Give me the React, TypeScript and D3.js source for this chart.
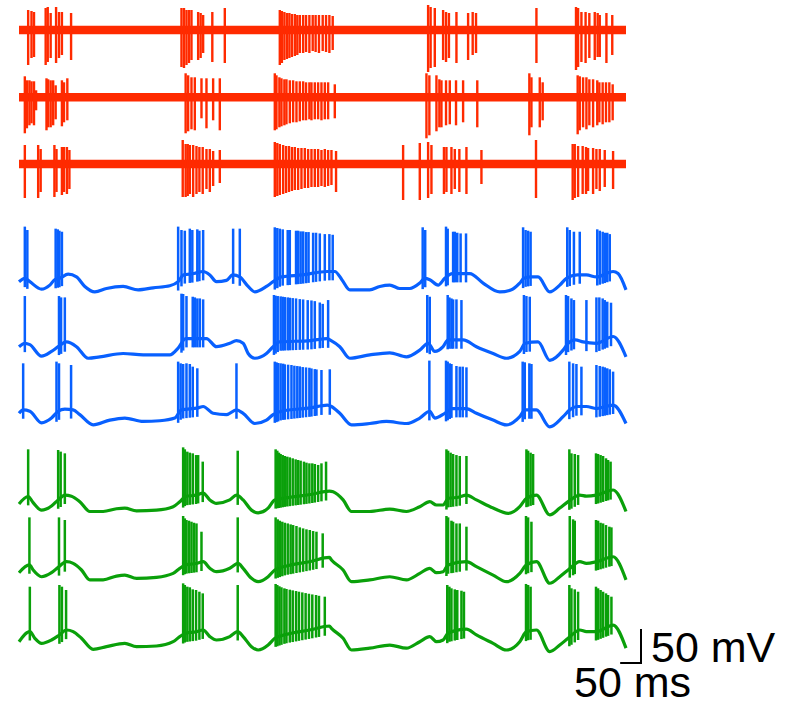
import React, { useEffect, useRef } from "react";
import * as d3 from "d3";

const duration = 1457; // ms

// extracellular recordings: [time ms, up µV, down µV]
const redSpikes1 = [
  [22, 200, 350], [30, 190, 280], [36, 180, 270], [64, 220, 350], [69, 230, 320], [76, 170, 280],
  [89, 230, 330], [96, 180, 280], [103, 180, 250], [125, 170, 300],
  [390, 220, 370], [396, 220, 380], [402, 200, 350], [408, 200, 330], [414, 200, 300], [430, 180, 300],
  [436, 170, 280], [442, 150, 230], [464, 180, 320], [494, 220, 330],
  [626, 200, 350], [631, 190, 330], [637, 180, 300], [643, 170, 290], [649, 170, 280], [655, 160, 270],
  [662, 160, 260], [668, 150, 250], [674, 150, 230], [682, 150, 230], [689, 150, 220], [697, 150, 230],
  [705, 150, 210], [712, 150, 220], [720, 150, 230], [729, 150, 210], [737, 150, 220], [745, 150, 230],
  [753, 140, 200],
  [982, 250, 420], [988, 230, 380], [998, 220, 370], [1018, 200, 300], [1025, 180, 320], [1032, 170, 280],
  [1050, 180, 330], [1078, 170, 300], [1089, 180, 250], [1097, 170, 230],
  [1242, 220, 330],
  [1337, 230, 400], [1342, 220, 370], [1350, 180, 320], [1360, 180, 330], [1369, 170, 280], [1382, 180, 300],
  [1389, 170, 270], [1394, 150, 270], [1410, 170, 330], [1424, 150, 250],
];

const redSpikes2 = [
  [14, 210, 360], [19, 170, 310], [25, 170, 280], [30, 160, 260], [36, 160, 280], [41, 70, 130],
  [66, 190, 330], [70, 180, 300], [76, 170, 300], [82, 170, 280], [88, 120, 220], [103, 170, 290],
  [108, 150, 250], [116, 190, 230],
  [400, 240, 360], [406, 220, 340], [414, 200, 320], [422, 200, 330], [438, 190, 210], [450, 190, 310],
  [466, 190, 230], [482, 190, 330],
  [614, 240, 330], [618, 220, 320], [625, 200, 300], [630, 190, 290], [637, 180, 280], [642, 180, 270],
  [650, 170, 260], [658, 170, 250], [666, 160, 250], [674, 160, 240], [682, 160, 230], [689, 150, 230],
  [697, 150, 220], [702, 150, 230], [710, 150, 220], [718, 150, 220], [726, 150, 230], [734, 150, 220],
  [742, 150, 220], [758, 130, 210],
  [978, 240, 410], [985, 220, 380], [1002, 220, 340], [1009, 180, 300], [1014, 170, 300], [1025, 170, 280],
  [1034, 170, 270], [1049, 170, 280], [1066, 170, 250], [1100, 170, 300],
  [1225, 240, 380], [1230, 200, 300], [1250, 200, 300], [1257, 150, 230],
  [1341, 220, 370], [1346, 210, 330], [1354, 200, 300], [1362, 200, 320], [1369, 180, 280], [1378, 180, 300],
  [1388, 170, 280], [1393, 150, 250], [1401, 150, 270], [1409, 150, 250], [1417, 150, 250], [1425, 130, 230],
];

const redSpikes3 = [
  [14, 190, 340], [46, 190, 340], [52, 150, 280], [85, 190, 330], [90, 150, 280], [103, 170, 310],
  [108, 170, 280], [115, 170, 300], [121, 140, 250],
  [393, 240, 330], [400, 200, 330], [405, 200, 320], [410, 190, 300], [418, 190, 330], [426, 180, 300],
  [433, 170, 280], [441, 170, 300], [450, 150, 250], [458, 150, 280], [466, 130, 220], [482, 140, 190],
  [614, 220, 330], [620, 210, 320], [626, 200, 310], [634, 190, 300], [641, 180, 290], [648, 180, 280],
  [655, 170, 270], [662, 170, 260], [670, 160, 260], [678, 160, 250], [686, 160, 240], [694, 150, 240],
  [702, 150, 230], [710, 150, 230], [718, 150, 230], [726, 140, 220], [734, 150, 230], [742, 140, 220],
  [750, 140, 210], [761, 130, 280],
  [922, 190, 360], [962, 210, 360], [982, 220, 340], [990, 190, 300], [1020, 170, 300], [1026, 170, 280],
  [1038, 170, 300], [1046, 150, 250], [1057, 150, 280], [1074, 170, 300], [1110, 140, 200],
  [1241, 240, 340],
  [1329, 200, 360], [1334, 200, 340], [1342, 180, 330], [1353, 180, 300], [1361, 170, 300], [1366, 160, 270],
  [1378, 160, 300], [1386, 150, 250], [1394, 150, 270], [1406, 140, 230], [1426, 130, 250],
];

// membrane potential: slow waveform [time ms, mV] and spikes [time ms, peak mV]
const blueBase1 = [
  [0, -65], [14, -60], [26, -65], [54, -76], [74, -70], [86, -62], [98, -60], [118, -54], [138, -58],
  [158, -72], [182, -80], [210, -75], [250, -72], [286, -77], [322, -74], [362, -71], [382, -65],
  [395, -55], [420, -53], [442, -50], [458, -55], [474, -65], [498, -63], [513, -55], [530, -58],
  [550, -72], [566, -80], [594, -72], [610, -65], [630, -58], [680, -55], [740, -50], [758, -50],
  [775, -62], [794, -77], [842, -77], [866, -72], [890, -70], [914, -75], [938, -75], [962, -67],
  [974, -60], [986, -62], [1006, -70], [1022, -60], [1040, -53], [1070, -53], [1082, -53], [1114, -67],
  [1154, -80], [1182, -77], [1202, -67], [1212, -60], [1230, -58], [1246, -58], [1274, -80], [1298, -70],
  [1314, -60], [1340, -55], [1362, -55], [1386, -58], [1426, -50], [1438, -53], [1457, -77],
];
const blueSpikes1 = [
  [14, 16], [20, 11], [88, 13], [93, 12], [97, 10], [103, 8.5],
  [382, 16], [390, 11], [398, 10], [410, 13], [416, 11], [428, 12], [433, 10], [442, 11],
  [514, 13], [530, 13],
  [614, 15], [620, 14], [626, 13], [633, 12], [645, 11], [650, 11], [665, 10], [670, 10], [676, 9],
  [682, 9], [689, 8], [695, 8], [706, 7], [713, 7], [722, 6], [734, 5], [745, 5], [753, 4],
  [969, 15], [975, 11],
  [1025, 16], [1029, 13], [1042, 8.5], [1046, 8.5], [1052, 7], [1060, 6], [1073, 6],
  [1210, 15], [1216, 11], [1222, 10], [1228, 8.5],
  [1316, 15], [1322, 11], [1332, 8.5], [1346, 8.5],
  [1388, 12], [1394, 10], [1401, 8.5], [1406, 7], [1412, 7], [1418, 5],
];

const blueBase2 = [
  [0, -65], [14, -60], [26, -62], [54, -79], [78, -72], [94, -65], [114, -58], [138, -65], [166, -82],
  [194, -80], [250, -75], [298, -77], [362, -77], [382, -67], [400, -53], [440, -53], [450, -53],
  [474, -65], [506, -60], [522, -56], [538, -60], [550, -75], [566, -82], [594, -75], [610, -65], [625, -58],
  [700, -56], [740, -53], [746, -55], [770, -65], [794, -82], [842, -77], [890, -74], [930, -80],
  [962, -70], [982, -60], [998, -72], [1018, -65], [1030, -55], [1066, -55], [1098, -65], [1138, -75],
  [1170, -82], [1202, -72], [1215, -60], [1246, -58], [1274, -85], [1306, -70], [1318, -60], [1335, -55],
  [1354, -58], [1386, -60], [1426, -50], [1457, -80],
];
const blueSpikes2 = [
  [14, 9.5], [96, 9.5], [101, 7.5], [110, 7.5],
  [390, 13], [394, 12.5], [402, 9.5], [417, 8.5], [422, 7.5], [428, 6], [434, 6], [442, 4.6],
  [612, 11], [616, 10], [621, 9.5], [628, 9], [633, 8.5], [638, 8], [645, 7.5], [650, 7], [657, 6.5],
  [665, 6], [674, 5], [682, 4.5], [693, 3.5], [702, 3], [710, 2], [722, 0], [729, -2], [742, 3.6],
  [980, 11], [986, 8.5],
  [1029, 11], [1033, 7.5], [1038, 6], [1042, 4.6], [1050, 4.6], [1062, 3.6],
  [1212, 11], [1218, 9.5], [1226, 8.5],
  [1313, 11], [1318, 9.5], [1326, 6], [1332, 3.6], [1362, 3.6],
  [1386, 7.5], [1393, 7.5], [1401, 6], [1406, 3.6], [1412, 1.2], [1421, -0.3],
];

const blueBase3 = [
  [0, -65], [10, -60], [26, -62], [54, -79], [78, -72], [94, -62], [110, -59], [130, -60], [146, -67],
  [178, -82], [218, -75], [254, -72], [298, -77], [338, -76], [374, -72], [390, -60], [430, -57],
  [442, -55], [466, -65], [498, -67], [522, -60], [538, -65], [566, -80], [594, -75], [610, -67],
  [630, -62], [700, -57], [740, -53], [750, -55], [770, -65], [798, -82], [842, -80], [882, -77],
  [930, -80], [962, -72], [986, -62], [998, -72], [1022, -65], [1040, -58], [1074, -58], [1098, -65],
  [1138, -75], [1170, -82], [1202, -70], [1215, -60], [1242, -60], [1274, -85], [1306, -70], [1322, -60],
  [1340, -55], [1362, -55], [1386, -58], [1426, -53], [1457, -80],
];
const blueSpikes3 = [
  [10, 8.5], [90, 11], [96, 8.5], [125, 6],
  [382, 11], [388, 8.5], [394, 7.5], [402, 8.5], [410, 7.5], [417, 3.6], [428, 1.2],
  [522, 8.5],
  [614, 11], [618, 10], [622, 9], [628, 8.5], [634, 8], [638, 7], [646, 6.5], [654, 6], [661, 5],
  [668, 4.5], [674, 4], [681, 3], [689, 2.5], [697, 2], [702, 1], [710, 0], [714, -0.5], [726, -1.3],
  [746, -0.3],
  [985, 12.5],
  [1025, 12.5], [1029, 11], [1034, 8.5], [1038, 7.5], [1050, 4.6], [1058, 3.6], [1065, 3.6], [1074, 2.6],
  [1209, 11], [1214, 10], [1225, 8.5], [1230, 7.5],
  [1321, 11], [1330, 8.5], [1338, 7.5], [1350, 3.6],
  [1386, 6], [1394, 4.6], [1401, 3.6], [1406, 2.6], [1412, 1.2], [1418, -0.3], [1426, -3.7],
];

const greenBase1 = [
  [0, -65], [22, -54], [34, -63], [54, -74], [78, -68], [94, -59], [110, -52], [126, -53.5], [146, -61.6],
  [170, -76], [202, -76], [234, -72], [254, -71], [282, -75], [330, -74], [370, -69], [386, -61.6],
  [400, -54], [425, -52], [442, -49], [458, -59], [474, -64], [506, -59], [522, -52], [538, -59],
  [558, -74], [574, -78], [598, -71], [614, -59], [640, -56], [700, -51], [745, -46], [754, -47],
  [778, -59], [798, -76], [842, -76], [890, -72.5], [930, -76], [962, -69], [986, -61.6], [1002, -66.5],
  [1018, -66.5], [1030, -57], [1055, -55], [1074, -52], [1098, -59], [1138, -71], [1174, -78.7],
  [1202, -69], [1218, -56.7], [1242, -52], [1274, -81], [1298, -71], [1318, -61.6], [1346, -52],
  [1362, -53.5], [1386, -52], [1426, -44.4], [1457, -76],
];
const greenSpikes1 = [
  [22, 15.4], [94, 14.4], [100, 12], [110, 9.5],
  [394, 18.3], [398, 15.4], [404, 12], [410, 10.5], [417, 9.5], [425, 7], [430, 7], [441, -2.7],
  [525, 13.4],
  [616, 15.4], [620, 13.4], [624, 10.5], [628, 8.5], [633, 7], [638, 5.6], [644, 4.6], [650, 3.6],
  [657, 2.2], [664, 0.7], [670, -0.3], [676, -1.3], [684, -2.7], [690, -4.2], [697, -5.2], [704, -5.2],
  [710, -6.2], [718, -7.6], [726, -5.2], [737, -2.7],
  [1026, 15.4], [1030, 13.4], [1036, 10.5], [1042, 8.5], [1050, 7], [1058, 5.6], [1074, 5.6],
  [1218, 15.4], [1222, 13.4], [1228, 10.5], [1234, 8.5],
  [1321, 15.4], [1326, 9.5], [1334, 8.5], [1342, 7],
  [1385, 9.5], [1390, 8.5], [1396, 7], [1402, 5.6], [1409, 2.2], [1414, -0.3], [1420, -2.7],
];

const greenBase2 = [
  [0, -66.5], [25, -55], [34, -62.6], [54, -72.4], [78, -66.5], [94, -58.6], [114, -50.3], [130, -52.7],
  [150, -62.5], [170, -77], [202, -77], [234, -71.4], [254, -70], [282, -74.8], [330, -73.3], [370, -67.5],
  [386, -60], [400, -55], [425, -53], [442, -50.3], [458, -60], [474, -65], [506, -60], [526, -52.7],
  [538, -60], [558, -74.8], [574, -79.7], [598, -72.4], [614, -62.5], [640, -57], [700, -50], [745, -44],
  [750, -47.8], [778, -62.5], [798, -79.7], [842, -77], [890, -72.4], [930, -77], [962, -67.5], [986, -60],
  [1002, -66.5], [1018, -65], [1030, -55], [1074, -50.3], [1098, -57.6], [1138, -70], [1170, -79.7],
  [1202, -67.5], [1218, -55], [1242, -50.3], [1274, -82], [1298, -72.4], [1318, -62.5], [1346, -50.3],
  [1362, -52.7], [1386, -50.3], [1426, -43], [1457, -77],
];
const greenSpikes2 = [
  [25, 14.9], [96, 14.9], [110, 11],
  [394, 16.9], [398, 13.4], [402, 11], [408, 10], [414, 8.5], [420, 7], [426, 6], [438, -6.2],
  [525, 14.9],
  [616, 14.9], [621, 12], [626, 10], [632, 8.5], [638, 7], [645, 6], [652, 4.6], [658, 3.6], [666, 2.2],
  [674, 0.2], [682, -1.3], [690, -2.7], [698, -3.7], [706, -5.2], [714, -6.2], [729, -8.6],
  [1026, 16.9], [1030, 14.9], [1038, 10], [1042, 8.5], [1050, 6], [1058, 6], [1074, 1.2],
  [1217, 16.9], [1222, 14.9], [1230, 8.5],
  [1322, 16.9], [1330, 12], [1334, 10],
  [1385, 11], [1390, 10], [1396, 7], [1402, 6], [1409, 3.6], [1417, 1.2], [1422, 0.2],
];

const greenBase3 = [
  [0, -67.5], [26, -52.7], [38, -62.5], [54, -70], [78, -65], [97, -57.6], [114, -50.3], [130, -52.7],
  [150, -62.5], [178, -78.7], [210, -74.8], [254, -70], [282, -74.8], [330, -73.8], [370, -67.5],
  [386, -60], [400, -55], [425, -53], [442, -50.3], [458, -60], [474, -65], [506, -60], [525, -52.7],
  [538, -60], [558, -74.8], [574, -79.7], [598, -72.4], [614, -62.5], [640, -57], [700, -50], [745, -44.4],
  [750, -47.8], [778, -62.5], [798, -79.7], [842, -77], [890, -72.4], [930, -77], [962, -67.5], [986, -60],
  [1002, -67.5], [1018, -65], [1030, -55], [1074, -49], [1098, -57.6], [1138, -70], [1170, -79.7],
  [1202, -67.5], [1218, -52.7], [1242, -50.3], [1274, -82], [1298, -72.4], [1318, -62.5], [1346, -50.3],
  [1362, -52.7], [1386, -52.7], [1426, -43], [1457, -77],
];
const greenSpikes3 = [
  [26, 13.4], [97, 15.9], [103, 13.4], [113, 8.5],
  [394, 18.3], [398, 15.9], [404, 13.4], [410, 12.5], [417, 9.5], [425, 8.5], [433, 6], [441, 3.6],
  [525, 15.9],
  [616, 17.4], [620, 15.9], [625, 14], [630, 12.5], [637, 11], [642, 10], [650, 9], [657, 8], [665, 7],
  [672, 6], [680, 5], [688, 4], [696, 3], [704, 2], [713, 1.2], [720, 0], [734, -1.3],
  [1028, 15.9], [1033, 13.4], [1038, 11], [1046, 9.5], [1052, 8.5], [1062, 7.5], [1068, 6],
  [1217, 17.4], [1222, 15.9], [1228, 13.4],
  [1321, 15.9], [1326, 11], [1334, 9.5], [1342, 6],
  [1385, 13.4], [1390, 11], [1396, 8.5], [1402, 6], [1409, 3.6], [1414, 1.2], [1422, -1.3],
];

const RED = "#ff2a00";
const BLUE = "#0860ff";
const GREEN = "#0aa00a";
const AHP = 13; // mV the spike trace dips under the slow waveform

function App()
{
  const ref = useRef(null);

  useEffect(() => {
    const svg = d3.select(ref.current);
    svg.selectAll("*").remove();

    const x = d3.scaleLinear().domain([0, duration]).range([19, 626]);
    const mvPx = d3.scaleLinear().domain([0, 50]).range([0, 34]);
    const uvPx = d3.scaleLinear().domain([0, 100]).range([0, 10]);

    // extracellular rows
    const redRows = [
      { spikes: redSpikes1, zero: 30 },
      { spikes: redSpikes2, zero: 97.3 },
      { spikes: redSpikes3, zero: 164 },
    ];
    redRows.forEach(row => {
      const g = svg.append("g");
      g.append("line")
        .attr("x1", x(0)).attr("x2", x(duration))
        .attr("y1", row.zero).attr("y2", row.zero)
        .attr("stroke", RED)
        .attr("stroke-width", 8.5);
      g.selectAll(".spk")
        .data(row.spikes)
        .enter()
        .append("line")
        .attr("class", "spk")
        .attr("x1", d => x(d[0])).attr("x2", d => x(d[0]))
        .attr("y1", d => row.zero - uvPx(d[1]))
        .attr("y2", d => row.zero + uvPx(d[2]))
        .attr("stroke", RED)
        .attr("stroke-width", 2.4);
    });

    // intracellular rows
    const cellRows = [
      { base: blueBase1, spikes: blueSpikes1, zero: 237.5, color: BLUE },
      { base: blueBase2, spikes: blueSpikes2, zero: 302.5, color: BLUE },
      { base: blueBase3, spikes: blueSpikes3, zero: 369.1, color: BLUE },
      { base: greenBase1, spikes: greenSpikes1, zero: 459.8, color: GREEN },
      { base: greenBase2, spikes: greenSpikes2, zero: 527.5, color: GREEN },
      { base: greenBase3, spikes: greenSpikes3, zero: 595.8, color: GREEN },
    ];
    cellRows.forEach(row => {
      const y = d3.scaleLinear().domain([0, 50]).range([row.zero, row.zero - 34]);
      const vAt = d3.scaleLinear().domain(row.base.map(d => d[0])).range(row.base.map(d => d[1]));
      const line = d3.line()
        .x(d => x(d[0]))
        .y(d => y(d[1]))
        .curve(d3.curveMonotoneX);
      const g = svg.append("g");
      g.append("path")
        .attr("d", line(row.base))
        .attr("fill", "none")
        .attr("stroke", row.color)
        .attr("stroke-width", 3.2)
        .attr("stroke-linejoin", "round");
      g.selectAll(".spk")
        .data(row.spikes)
        .enter()
        .append("line")
        .attr("class", "spk")
        .attr("x1", d => x(d[0])).attr("x2", d => x(d[0]))
        .attr("y1", d => y(d[1]))
        .attr("y2", d => y(vAt(d[0]) - AHP))
        .attr("stroke", row.color)
        .attr("stroke-width", 2.5);
    });

    // scale bar
    const barRight = 641;
    const barBottom = 663;
    const bar = svg.append("g");
    bar.append("path")
      .attr("d", `M${barRight - (x(50) - x(0))},${barBottom}H${barRight}V${barBottom - mvPx(50)}`)
      .attr("fill", "none")
      .attr("stroke", "#000")
      .attr("stroke-width", 2);
    bar.append("text")
      .attr("x", 651)
      .attr("y", 662)
      .style("font-family", "Liberation Sans, Arial, sans-serif")
      .style("font-size", "43px")
      .text("50 mV");
    bar.append("text")
      .attr("x", 574)
      .attr("y", 697)
      .style("font-family", "Liberation Sans, Arial, sans-serif")
      .style("font-size", "43px")
      .text("50 ms");
  }, []);

  return (
    <svg ref={ref} width={802} height={710}
      style={{ position: "absolute", left: 0, top: 0, background: "#fff" }}></svg>
  );
}

export default App;
